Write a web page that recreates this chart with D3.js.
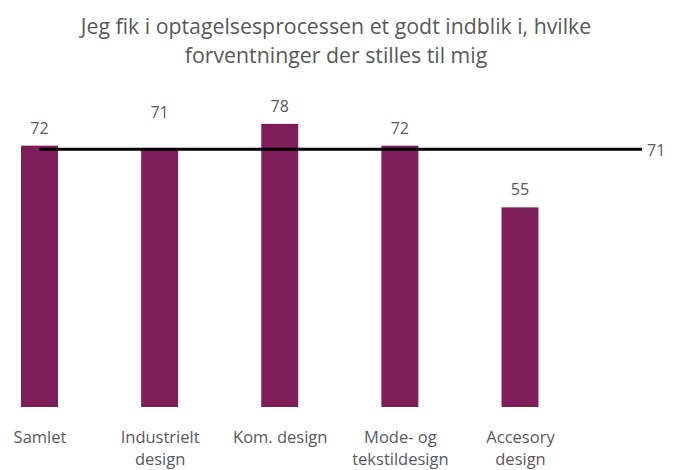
<!DOCTYPE html>
<html>
<head>
<meta charset="utf-8">
<script src="https://cdn.jsdelivr.net/npm/d3@7"></script>
<style>
  body { margin: 0; background: #fff; }
  text { font-family: "Open Sans", sans-serif; fill: #595959; }
</style>
</head>
<body>
<svg id="chart" width="673" height="470"></svg>
<script>
// data
var categories = ["Samlet", "Industrielt design", "Kom. design", "Mode- og tekstildesign", "Accesory design"];
var labelLines = [["Samlet"], ["Industrielt", "design"], ["Kom. design"], ["Mode- og", "tekstildesign"], ["Accesory", "design"]];
var values = [72, 71, 78, 72, 55];
var average = 71;
var titleLines = ["Jeg fik i optagelsesprocessen et godt indblik i, hvilke", "forventninger der stilles til mig"];

var svg = d3.select("#chart");

var x = d3.scalePoint().domain(categories).range([39.5, 520]);
var y = d3.scaleLinear().domain([0, 100]).range([407, 44]);
var barW = 37;

// title
svg.selectAll("text.title")
  .data(titleLines)
  .enter()
  .append("text")
  .attr("class", "title")
  .attr("x", 336)
  .attr("y", function(d, i) { return 34 + i * 29; })
  .attr("text-anchor", "middle")
  .style("font-size", "21.3px")
  .text(function(d) { return d; });

// bars
svg.selectAll("rect.bar")
  .data(values)
  .enter()
  .append("rect")
  .attr("class", "bar")
  .attr("x", function(d, i) { return x(categories[i]) - barW / 2; })
  .attr("y", function(d) { return y(d); })
  .attr("width", barW)
  .attr("height", function(d) { return y(0) - y(d); })
  .attr("fill", "#7e1f5b");

// average line
svg.append("line")
  .attr("x1", x(categories[0]))
  .attr("x2", 642)
  .attr("y1", y(average))
  .attr("y2", y(average))
  .attr("stroke", "#000")
  .attr("stroke-width", 3);

svg.append("text")
  .attr("x", 647)
  .attr("y", y(average) + 7)
  .style("font-size", "16px")
  .text(average);

// value labels
svg.selectAll("text.val")
  .data(values)
  .enter()
  .append("text")
  .attr("class", "val")
  .attr("x", function(d, i) { return x(categories[i]); })
  .attr("y", function(d) { return y(d) - (d === average ? 31 : 12); })
  .attr("text-anchor", "middle")
  .style("font-size", "16px")
  .text(function(d) { return d; });

// category labels
var axis = d3.axisBottom(x).tickSize(0).tickFormat("");
var g = svg.append("g")
  .attr("transform", "translate(0,428)")
  .call(axis);
g.select(".domain").remove();
g.selectAll(".tick").each(function(d, i) {
  var t = d3.select(this).append("text")
    .attr("text-anchor", "middle")
    .style("font-size", "16.5px")
    .attr("fill", "#595959");
  t.selectAll("tspan")
    .data(labelLines[i])
    .enter()
    .append("tspan")
    .attr("x", 0)
    .attr("y", function(s, j) { return 15 + j * 22; })
    .text(function(s) { return s; });
});
</script>
</body>
</html>
